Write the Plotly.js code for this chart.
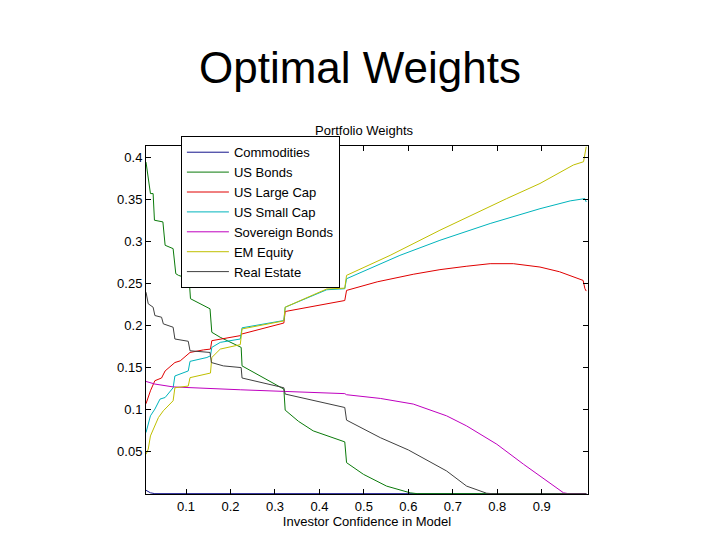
<!DOCTYPE html>
<html>
<head>
<meta charset="utf-8">
<script src="https://cdn.plot.ly/plotly-3.0.1.min.js"></script>
<style>html,body{margin:0;padding:0;background:#fff;}#chart{width:720px;height:540px;}</style>
</head>
<body>
<div id="chart"></div>
<script>
// Series names
const seriesNames = ["Commodities", "US Bonds", "US Large Cap", "US Small Cap", "Sovereign Bonds", "EM Equity", "Real Estate"];

// Investor confidence (x) and weights (y)
const xCommodities = [0.01, 0.02, 0.03, 1.0];
const yCommodities = [0.004, 0.001, 0, 0];

const xUSBonds = [0.010, 0.020, 0.026, 0.029, 0.048, 0.053, 0.071, 0.077, 0.083, 0.107, 0.110, 0.154, 0.158, 0.177, 0.224, 0.226, 0.320, 0.323, 0.353, 0.386, 0.457, 0.461, 0.499, 0.537, 0.551, 0.604, 0.620, 1.0];
const yUSBonds = [0.3945, 0.357, 0.357, 0.3253, 0.3233, 0.2955, 0.2915, 0.2617, 0.2597, 0.2557, 0.2319, 0.2199, 0.192, 0.186, 0.174, 0.152, 0.1244, 0.0994, 0.086, 0.0747, 0.0616, 0.0369, 0.023, 0.013, 0.009, 0.001, 0, 0];

const xUSLargeCap = [0.010, 0.015, 0.020, 0.030, 0.045, 0.053, 0.075, 0.087, 0.109, 0.139, 0.155, 0.158, 0.222, 0.226, 0.320, 0.323, 0.457, 0.461, 0.530, 0.611, 0.671, 0.730, 0.784, 0.836, 0.896, 0.940, 0.971, 0.993, 0.997, 1.0];
const yUSLargeCap = [0.107, 0.1145, 0.1224, 0.1344, 0.1376, 0.146, 0.156, 0.158, 0.168, 0.171, 0.172, 0.182, 0.188, 0.190, 0.203, 0.2167, 0.2298, 0.2418, 0.252, 0.261, 0.2665, 0.2705, 0.2736, 0.2736, 0.2696, 0.264, 0.2585, 0.2537, 0.244, 0.241];

const xUSSmallCap = [0.010, 0.015, 0.020, 0.030, 0.0415, 0.053, 0.071, 0.075, 0.105, 0.109, 0.147, 0.155, 0.158, 0.177, 0.222, 0.226, 0.320, 0.323, 0.386, 0.4165, 0.457, 0.461, 0.581, 0.671, 0.784, 0.896, 0.964, 0.994, 0.997, 1.0];
const yUSSmallCap = [0.0727, 0.0846, 0.0926, 0.1006, 0.1125, 0.1144, 0.126, 0.140, 0.146, 0.1574, 0.162, 0.164, 0.174, 0.180, 0.184, 0.1973, 0.206, 0.2218, 0.2358, 0.2426, 0.2438, 0.2557, 0.2835, 0.3014, 0.3214, 0.339, 0.3483, 0.350, 0.351, 0.347];

const xSovereign = [0.010, 0.030, 0.071, 0.147, 0.222, 0.323, 0.457, 0.461, 0.537, 0.611, 0.686, 0.731, 0.799, 0.859, 0.911, 0.949, 0.960, 1.0];
const ySovereign = [0.1335, 0.1304, 0.127, 0.125, 0.1236, 0.1216, 0.119, 0.1177, 0.1133, 0.1066, 0.0926, 0.0806, 0.0588, 0.035, 0.015, 0.001, 0, 0];

const xEMEquity = [0.010, 0.015, 0.020, 0.038, 0.049, 0.071, 0.075, 0.105, 0.109, 0.147, 0.155, 0.158, 0.177, 0.222, 0.226, 0.320, 0.323, 0.386, 0.4165, 0.457, 0.461, 0.559, 0.671, 0.821, 0.896, 0.971, 0.994, 1.0];
const yEMEquity = [0.0469, 0.0529, 0.0687, 0.0906, 0.0986, 0.1105, 0.126, 0.128, 0.138, 0.142, 0.1435, 0.162, 0.172, 0.1773, 0.196, 0.2055, 0.2218, 0.2365, 0.2435, 0.2445, 0.2597, 0.2835, 0.3134, 0.351, 0.369, 0.391, 0.3949, 0.4128];

const xRealEstate = [0.010, 0.015, 0.026, 0.030, 0.045, 0.049, 0.071, 0.075, 0.105, 0.109, 0.154, 0.157, 0.184, 0.224, 0.226, 0.320, 0.323, 0.457, 0.461, 0.506, 0.537, 0.600, 0.686, 0.731, 0.776, 0.790, 1.0];
const yRealEstate = [0.2397, 0.2259, 0.2218, 0.2119, 0.2099, 0.202, 0.198, 0.184, 0.1813, 0.170, 0.168, 0.156, 0.152, 0.150, 0.1376, 0.126, 0.1185, 0.1025, 0.0875, 0.0747, 0.0666, 0.052, 0.027, 0.009, 0.0005, 0, 0];

const xTickVals = [0.1, 0.2, 0.3, 0.4, 0.5, 0.6, 0.7, 0.8, 0.9];
const xTickText = ["0.1", "0.2", "0.3", "0.4", "0.5", "0.6", "0.7", "0.8", "0.9"];
const yTickVals = [0.05, 0.1, 0.15, 0.2, 0.25, 0.3, 0.35, 0.4];
const yTickText = ["0.05", "0.1", "0.15", "0.2", "0.25", "0.3", "0.35", "0.4"];

const colors = ["#14148c", "#0a7a0a", "#e00000", "#00b4bc", "#bf00bf", "#bfbf00", "#404040"];
const xs = [xCommodities, xUSBonds, xUSLargeCap, xUSSmallCap, xSovereign, xEMEquity, xRealEstate];
const ys = [yCommodities, yUSBonds, yUSLargeCap, yUSSmallCap, ySovereign, yEMEquity, yRealEstate];

const FONT = "Liberation Sans, Arial, sans-serif";

const traces = seriesNames.map((name, i) => ({
  type: "scatter",
  mode: "lines",
  name: name,
  x: xs[i],
  y: ys[i],
  line: {color: colors[i], width: 1},
  hoverinfo: "skip"
}));

const layout = {
  width: 720,
  height: 540,
  paper_bgcolor: "#ffffff",
  plot_bgcolor: "#ffffff",
  font: {family: FONT, size: 13, color: "#000"},
  margin: {l: 146, r: 132, t: 146, b: 46, pad: 0},
  title: {
    text: "Optimal Weights",
    font: {family: FONT, size: 44, color: "#000"},
    x: 0.5, xref: "container", xanchor: "center",
    y: 0.874, yref: "container", yanchor: "middle"
  },
  showlegend: true,
  legend: {
    x: 0.079, y: 1.028, xanchor: "left", yanchor: "top",
    bgcolor: "#ffffff", bordercolor: "#000", borderwidth: 1,
    font: {family: FONT, size: 13, color: "#000"},
    itemwidth: 42,
    tracegroupgap: 0
  },
  xaxis: {
    range: [0.01, 1.004],
    tickvals: xTickVals, ticktext: xTickText,
    ticks: "inside", ticklen: 5, tickcolor: "#000", tickwidth: 1,
    showline: true, linecolor: "#000", linewidth: 1, mirror: "ticks",
    showgrid: false, zeroline: false,
    tickfont: {family: FONT, size: 13, color: "#000"},
    title: {text: "Investor Confidence in Model", font: {family: FONT, size: 13, color: "#000"}, standoff: 4},
    automargin: false
  },
  yaxis: {
    range: [-0.0004, 0.4136],
    tickvals: yTickVals, ticktext: yTickText,
    ticks: "inside", ticklen: 5, tickcolor: "#000", tickwidth: 1,
    showline: true, linecolor: "#000", linewidth: 1, mirror: "ticks",
    showgrid: false, zeroline: false,
    tickfont: {family: FONT, size: 13, color: "#000"},
    automargin: false
  },
  annotations: [{
    text: "Portfolio Weights",
    xref: "paper", yref: "paper", x: 0.495, y: 1.045,
    xanchor: "center", yanchor: "middle", showarrow: false,
    font: {family: FONT, size: 13, color: "#000"}
  }]
};

Plotly.newPlot("chart", traces, layout, {staticPlot: true, displayModeBar: false});
</script>
</body>
</html>
